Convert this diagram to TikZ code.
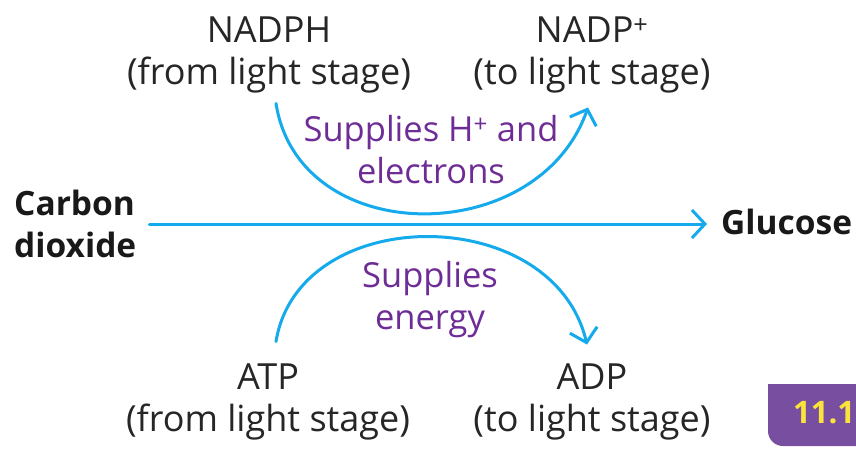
\documentclass[tikz,border=0pt]{standalone}
\usepackage{fontspec}
\setmainfont{Open Sans}
\usetikzlibrary{arrows.meta}

\definecolor{flowblue}{RGB}{20,170,235}
\definecolor{notepurple}{RGB}{110,45,150}
\definecolor{badgepurple}{RGB}{120,78,160}
\definecolor{badgeyellow}{RGB}{250,228,60}

\begin{document}
\begin{tikzpicture}[x=1pt, y=-1pt,
  flow/.style={draw=flowblue, line width=3pt, line cap=round,
    -{Straight Barb[length=13pt, width=28pt, line width=3pt]}},
  chem/.style={font=\fontsize{36}{42}\selectfont, text=black!85, align=center, inner sep=0pt},
  note/.style={font=\fontsize{34.5}{42}\selectfont, text=notepurple, align=center, inner sep=0pt},
  ends/.style={font=\bfseries\fontsize{33.5}{42}\selectfont, text=black!90, align=left, inner sep=0pt},
  badgenum/.style={font=\bfseries\fontsize{31}{36}\selectfont, text=badgeyellow, inner sep=0pt}]

\useasboundingbox (0,0) rectangle (856,448);
\clip (0,0) rectangle (856,448);

% Carbon dioxide to glucose
\node[ends, anchor=west] (co2) at (14,224) {Carbon\\dioxide};
\node[ends, anchor=west] (glucose) at (721,222) {Glucose};
\draw[flow] ([xshift=13pt]co2.east) -- ([xshift=-14pt]glucose.west |- co2.east);

% NADPH side
\node[chem] (nadph) at (269,55) {NADPH\\(from light stage)};
\node[chem] (nadp) at (592,55) {NADP\textsuperscript{+}\\(to light stage)};
\draw[flow] ([xshift=7pt, yshift=-10pt]nadph.south) .. controls +(23,146) and +(-50,142) .. ([xshift=-4pt, yshift=-14pt]nadp.south);
\node[note] (hplus) at (431,150) {Supplies H\textsuperscript{+} and\\electrons};

% ATP side
\node[chem] (atp) at (268,402) {ATP\\(from light stage)};
\node[chem] (adp) at (592,402) {ADP\\(to light stage)};
\draw[flow] ([xshift=8pt, yshift=22pt]atp.north) .. controls +(23,-140) and +(-34,-143) .. ([xshift=-5pt, yshift=19pt]adp.north);
\node[note] (energy) at (430,300) {Supplies\\energy};

% Section badge
\fill[badgepurple, rounded corners=15pt] (768,384) rectangle (900,446);
\fill[badgepurple] (768,384) rectangle (800,410);
\node[badgenum, anchor=base west] (unit) at (793,423) {11.1};

\end{tikzpicture}
\end{document}
